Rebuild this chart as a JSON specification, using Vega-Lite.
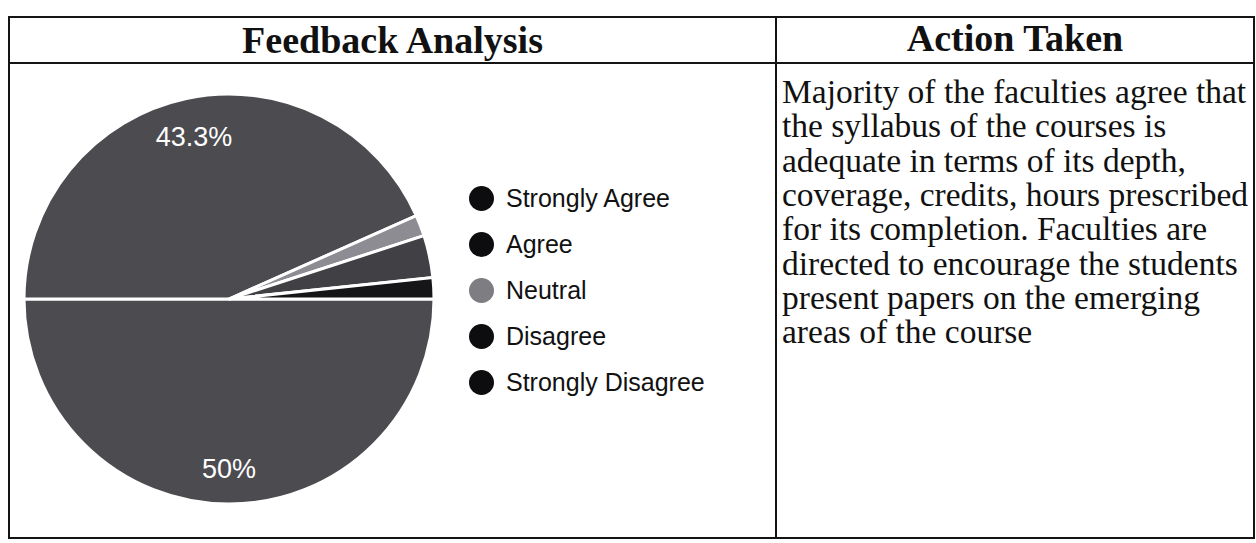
{
  "$schema": "https://vega.github.io/schema/vega-lite/v6.json",
  "background": "white",
  "padding": {"left": 8, "top": 16, "right": 0, "bottom": 0},
  "config": {
    "view": {"stroke": "#141414", "strokeWidth": 2},
    "style": {"view": {"stroke": "#141414", "strokeWidth": 2}},
    "concat": {"spacing": 0}
  },
  "datasets": {
    "responses": [
      {"response": "Strongly Agree", "count": 30, "label": "50%", "n": 1},
      {"response": "Agree", "count": 26, "label": "43.3%", "n": 2},
      {"response": "Neutral", "count": 1, "label": "", "n": 3},
      {"response": "Disagree", "count": 2, "label": "", "n": 4},
      {"response": "Strongly Disagree", "count": 1, "label": "", "n": 5}
    ]
  },
  "spacing": 0,
  "bounds": "flush",
  "columns": 2,
  "concat": [
    {
      "width": 767,
      "height": 46,
      "view": {"stroke": "#141414", "strokeWidth": 2},
      "data": {"values": [{"h": "Feedback Analysis"}]},
      "mark": {"type": "text", "font": "Liberation Serif", "fontWeight": "bold", "fontSize": 38, "color": "#111", "dy": 2},
      "encoding": {"text": {"field": "h"}}
    },
    {
      "width": 478,
      "height": 46,
      "view": {"stroke": "#141414", "strokeWidth": 2},
      "data": {"values": [{"h": "Action Taken"}]},
      "mark": {"type": "text", "font": "Liberation Serif", "fontWeight": "bold", "fontSize": 38, "color": "#111", "dy": 0},
      "encoding": {"text": {"field": "h"}}
    },
    {
      "width": 767,
      "height": 475,
      "view": {"stroke": "#141414", "strokeWidth": 2},
      "data": {"name": "responses"},
      "encoding": {
        "theta": {"field": "count", "type": "quantitative", "stack": true, "scale": {"range": [1.5708, 7.854]}},
        "order": {"field": "n", "type": "quantitative"}
      },
      "layer": [
        {
          "mark": {"type": "arc", "outerRadius": 0.5, "x": 220, "y": 236},
          "encoding": {
            "color": {
              "field": "response",
              "type": "nominal",
              "scale": {
                "domain": ["Strongly Agree", "Agree", "Neutral", "Disagree", "Strongly Disagree"],
                "range": ["#0d0d0f", "#0d0d0f", "#7d7d82", "#0d0d0f", "#0d0d0f"]
              },
              "legend": {
                "orient": "none",
                "legendX": 460,
                "legendY": 169,
                "title": null,
                "symbolType": "circle",
                "symbolSize": 625,
                "symbolStrokeWidth": 0,
                "symbolOpacity": 1,
                "labelFont": "Liberation Sans",
                "labelFontSize": 25,
                "labelColor": "#111",
                "labelOffset": 12,
                "labelLimit": 0,
                "rowPadding": 20,
                "padding": 0
              }
            }
          }
        },
        {
          "mark": {"type": "arc", "outerRadius": 205, "x": 220, "y": 236, "stroke": "white", "strokeWidth": 3},
          "encoding": {
            "fill": {
              "field": "response",
              "type": "nominal",
              "scale": {
                "domain": ["Strongly Agree", "Agree", "Neutral", "Disagree", "Strongly Disagree"],
                "range": ["#4b4b50", "#4b4b50", "#8c8c92", "#404045", "#161618"]
              },
              "legend": null
            }
          }
        },
        {
          "mark": {"type": "text", "radius": 168, "x": 220, "y": 236, "dy": 3, "fill": "white", "font": "Liberation Sans", "fontSize": 27},
          "encoding": {"text": {"field": "label"}}
        }
      ]
    },
    {
      "width": 478,
      "height": 475,
      "view": {"stroke": "#141414", "strokeWidth": 2},
      "data": {"values": [{"lines": [
        "Majority of the faculties agree that",
        "the syllabus of the courses is",
        "adequate in terms of its depth,",
        "coverage, credits, hours prescribed",
        "for its completion. Faculties are",
        "directed to encourage the students",
        "present papers on the emerging",
        "areas of the course"
      ]}]},
      "mark": {"type": "text", "align": "left", "baseline": "top", "x": 6, "y": 14, "font": "Liberation Serif", "fontSize": 33.5, "lineHeight": 34.3, "color": "#111"},
      "encoding": {"text": {"field": "lines"}}
    }
  ]
}
